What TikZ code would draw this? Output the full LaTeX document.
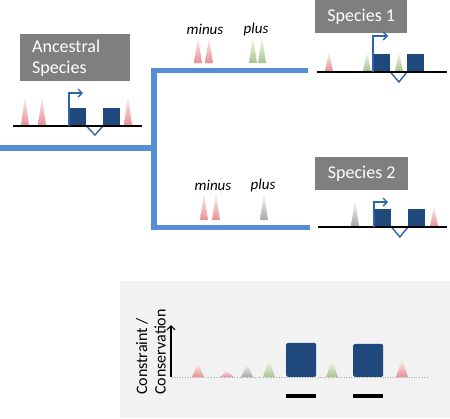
\documentclass[tikz,border=0pt]{standalone}
\usepackage{fontspec}
\setmainfont{Carlito}
\usetikzlibrary{arrows.meta}
\definecolor{treeblue}{HTML}{558ED5}
\definecolor{genedark}{HTML}{1F497D}
\definecolor{arrowblue}{HTML}{2E64A8}
\definecolor{boxgray}{HTML}{7F7F7F}
\definecolor{panelgray}{HTML}{F2F2F2}
\definecolor{pkred}{HTML}{E99095}
\definecolor{pkgreen}{HTML}{A8C490}
\definecolor{pkgray}{HTML}{A8A8A8}
\newcommand\mypeak[5]{\shade[top color=#5!10, bottom color=#5] (#1-#4/2,#2) -- (#1,#2-#3) -- (#1+#4/2,#2) -- cycle;}
\newcommand\mygene[4]{%
  \node[exon, anchor=south west] (#4a) at (#1,#2) {};
  \node[exon, anchor=south west] (#4b) at (#1+34,#2) {};
  \draw[intron] (#4a.south east) -- ++(8.5,#3) -- (#4b.south west);
}
\tikzset{
  spbox/.style={fill=boxgray, text=white, font=\fontsize{18}{21}\selectfont, inner sep=0pt},
  exon/.style={fill=genedark, minimum width=17pt, minimum height=18pt, inner sep=0pt},
  intron/.style={draw=arrowblue, line width=1.4pt},
  tss/.style={draw=arrowblue, line width=1.3pt, -{Straight Barb[length=4pt,width=8pt]}},
  dna/.style={line width=2.6pt, black},
  tree/.style={draw=treeblue, line width=5.5pt},
  lbl/.style={font=\itshape\fontsize{15}{17}\selectfont, inner sep=0pt},
  pexon/.style={fill=genedark, rounded corners=1.5pt, inner sep=0pt, minimum width=30pt},
}
\begin{document}
\begin{tikzpicture}[x=1pt,y=-1pt]
\useasboundingbox (0,0) rectangle (450,418);
% tree
\coordinate (root) at (0,148);
\coordinate (fork) at (154,148);
\coordinate (t1) at (308,70.5);
\coordinate (t2) at (310,227.5);
\draw[tree] (root) -- (fork);
\draw[tree, line join=miter] (t1) -| (fork) |- (t2);
% ancestral
\node[spbox, minimum width=98pt, minimum height=47pt, align=left, text width=86pt, inner xsep=12pt, anchor=north west] (anc) at (20,34) {Ancestral\\Species};
\coordinate (al) at (13,126); \coordinate (ar) at (142,126);
\mypeak{25}{125}{29}{8}{pkred}
\mypeak{42}{125}{29}{8}{pkred}
\mypeak{128}{125}{29}{8}{pkred}
\mygene{69}{126}{9}{ag}
\draw[dna] (al) -- (ar);
\draw[tss] (aga.south west) -- ++(0,-33) -- ++(14,0);
% top branch labels
\node[lbl] (m1) at (205,29) {minus};
\node[lbl] (p1) at (256,29) {plus};
\mypeak{198}{63}{26}{8}{pkred}
\mypeak{209}{63}{26}{8}{pkred}
\mypeak{253}{63}{26}{8}{pkgreen}
\mypeak{262}{63}{26}{8}{pkgreen}
% species 1
\node[spbox, minimum width=92pt, minimum height=33pt, anchor=north west] (s1) at (315,0) {};
\node[spbox, fill=none] at (s1.center) {Species 1};
\coordinate (s1l) at (317,72); \coordinate (s1r) at (447,72);
\mypeak{329}{71}{19}{8}{pkred}
\mypeak{367}{71}{19}{8}{pkgreen}
\mygene{373}{72}{10}{sa}
\mypeak{399}{71}{19}{8}{pkgreen}
\draw[dna] (s1l) -- (s1r);
\draw[tss] (saa.south west) -- ++(0,-36) -- ++(15,0);
% bottom branch labels
\node[lbl] (m2) at (213,185) {minus};
\node[lbl] (p2) at (263,185) {plus};
\mypeak{204}{220}{27}{8}{pkred}
\mypeak{216}{220}{27}{8}{pkred}
\mypeak{264}{220}{27}{8}{pkgray}
% species 2
\node[spbox, minimum width=93pt, minimum height=33pt, anchor=north west] (s2) at (315,157) {};
\node[spbox, fill=none] at (s2.center) {Species 2};
\coordinate (s2l) at (318,227); \coordinate (s2r) at (447,227);
\mypeak{355}{226}{26}{8}{pkgray}
\mypeak{434}{226}{20}{8}{pkred}
\mygene{374}{227}{10}{sb}
\draw[dna] (s2l) -- (s2r);
\draw[tss] (sba.south west) -- ++(0,-25) -- ++(14,0);
% panel
\fill[panelgray] (120,281) rectangle (450,418);
\coordinate (bl) at (172,377); \coordinate (br) at (428,377);
\coordinate (ytop) at (171,325);
\draw[gray!70, line width=0.6pt, dotted] (bl) -- (br);
\mypeak{198}{377}{14}{12}{pkred}
\mypeak{227}{377}{7}{13}{pkred}
\mypeak{247}{377}{13}{12}{pkgray}
\mypeak{269}{377}{17}{12}{pkgreen}
\mypeak{332}{377}{17}{12}{pkgreen}
\mypeak{402}{377}{18}{12}{pkred}
\node[pexon, minimum height=34pt, anchor=south west] (e1) at (286,377) {};
\node[pexon, minimum height=33pt, anchor=south west] (e2) at (353,377) {};
\draw[line width=1.2pt, -{Straight Barb[length=4pt,width=8pt]}] (bl -| ytop) -- (ytop);
\node[rotate=90, align=left, font=\fontsize{16}{18.5}\selectfont, inner sep=0pt, anchor=west] (yl) at (151,395) {Constraint /\\Conservation};
\fill[black] (e1.south west |- 0,394) rectangle (e1.south east |- 0,398);
\fill[black] (e2.south west |- 0,394) rectangle (e2.south east |- 0,398);
\end{tikzpicture}
\end{document}
